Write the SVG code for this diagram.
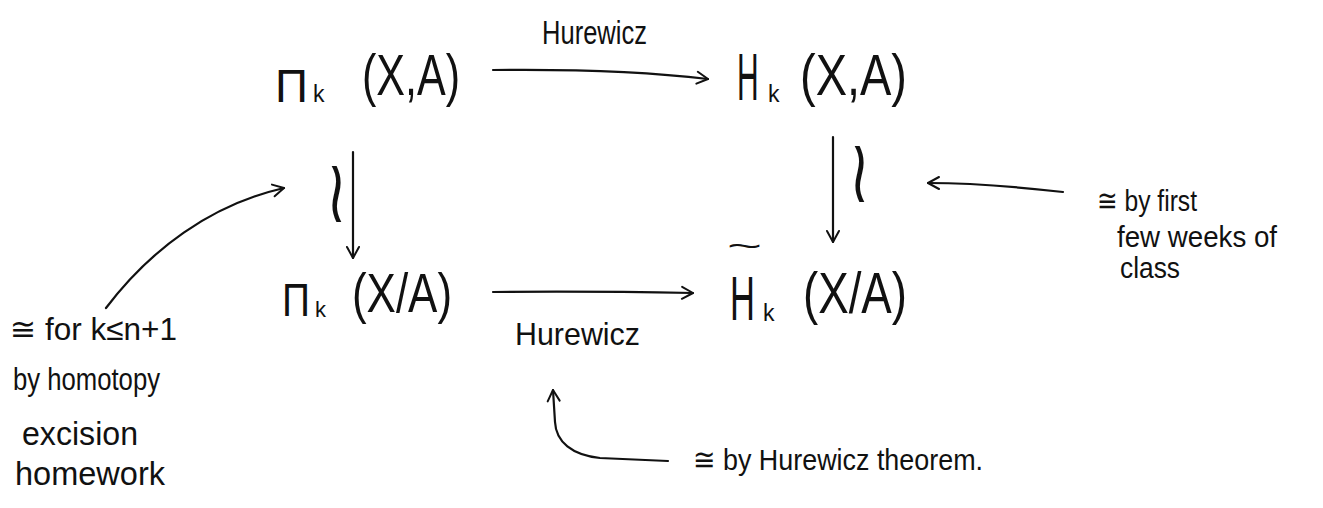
<svg xmlns="http://www.w3.org/2000/svg" width="1323" height="508" viewBox="0 0 1323 508">
<style>
  text { font-family: "Liberation Sans", "DejaVu Sans", sans-serif; fill: #111; }
  .edge { fill: none; stroke: #111; stroke-width: 2.2; stroke-linecap: round; }
  .iso { font-family: "DejaVu Sans", sans-serif; font-size: 56px; }
</style>
<defs>
  <marker id="ah" markerWidth="16" markerHeight="16" refX="13" refY="8" orient="auto" markerUnits="userSpaceOnUse">
    <path d="M2,2 L13,8 L2,14" fill="none" stroke="#111" stroke-width="2" stroke-linecap="round" stroke-linejoin="round"/>
  </marker>
</defs>
<rect width="1323" height="508" fill="#fff"/>

<g id="connectors">
  <path class="edge" d="M493,70 C580,69 650,72 708,79" marker-end="url(#ah)"/>
  <path class="edge" d="M493,292 C580,291 640,292 693,293" marker-end="url(#ah)"/>
  <path class="edge" d="M353,152 L353,258" marker-end="url(#ah)"/>
  <path class="edge" d="M833,137 L833,242" marker-end="url(#ah)"/>
  <path class="edge" d="M106,308 C150,250 210,205 284,188" marker-end="url(#ah)"/>
  <path class="edge" d="M1063,192 C1010,186 970,183 928,183" marker-end="url(#ah)"/>
  <path class="edge" d="M668,461 L600,458 C572,455 556,442 555,422 L553,390" marker-end="url(#ah)"/>
</g>

<g id="node-pi-XA">
  <text x="275" y="102" font-size="47" textLength="33" lengthAdjust="spacingAndGlyphs">Π</text>
  <text x="313" y="102" font-size="23">k</text>
  <text x="362" y="95" font-size="58" textLength="98" lengthAdjust="spacingAndGlyphs">(X,A)</text>
</g>
<g id="node-H-XA">
  <text transform="translate(737,100) scale(1,2.2)" font-size="30">H</text>
  <text x="768" y="102" font-size="23">k</text>
  <text x="800" y="95" font-size="58" textLength="107" lengthAdjust="spacingAndGlyphs">(X,A)</text>
</g>
<g id="node-pi-X/A">
  <text x="282" y="316" font-size="46" textLength="28" lengthAdjust="spacingAndGlyphs">Π</text>
  <text x="315" y="317" font-size="22">k</text>
  <text x="352" y="312" font-size="56" textLength="100" lengthAdjust="spacingAndGlyphs">(X/A)</text>
</g>
<g id="node-Htilde-X/A">
  <text transform="translate(727,256) scale(2,1)" font-size="30">~</text>
  <text transform="translate(730,320) scale(1.15,2.1)" font-size="30">H</text>
  <text x="763" y="321" font-size="23">k</text>
  <text x="803" y="313" font-size="58" textLength="104" lengthAdjust="spacingAndGlyphs">(X/A)</text>
</g>

<g id="label-hurewicz-top">
  <text x="542" y="44" font-size="34" textLength="105" lengthAdjust="spacingAndGlyphs">Hurewicz</text>
</g>
<g id="label-hurewicz-bottom">
  <text x="515" y="345" font-size="32" textLength="125" lengthAdjust="spacingAndGlyphs">Hurewicz</text>
</g>
<g id="iso-left">
  <text class="iso" transform="translate(326,222) scale(1,1.6)">≀</text>
</g>
<g id="iso-right">
  <text class="iso" transform="translate(849,202) scale(1,1.6)">≀</text>
</g>

<g id="note-left">
  <text x="10" y="340" font-size="31" textLength="167" lengthAdjust="spacingAndGlyphs">≅ for k≤n+1</text>
  <text x="13" y="390" font-size="32" textLength="147" lengthAdjust="spacingAndGlyphs">by homotopy</text>
  <text x="22" y="445" font-size="34" textLength="116" lengthAdjust="spacingAndGlyphs">excision</text>
  <text x="15" y="485" font-size="34" textLength="150" lengthAdjust="spacingAndGlyphs">homework</text>
</g>
<g id="note-right">
  <text x="1097" y="211" font-size="30" textLength="100" lengthAdjust="spacingAndGlyphs">≅ by first</text>
  <text x="1117" y="247" font-size="30" textLength="160" lengthAdjust="spacingAndGlyphs">few weeks of</text>
  <text x="1120" y="278" font-size="30" textLength="60" lengthAdjust="spacingAndGlyphs">class</text>
</g>
<g id="note-bottom">
  <text x="693" y="470" font-size="30" textLength="290" lengthAdjust="spacingAndGlyphs">≅ by Hurewicz theorem.</text>
</g>
</svg>
